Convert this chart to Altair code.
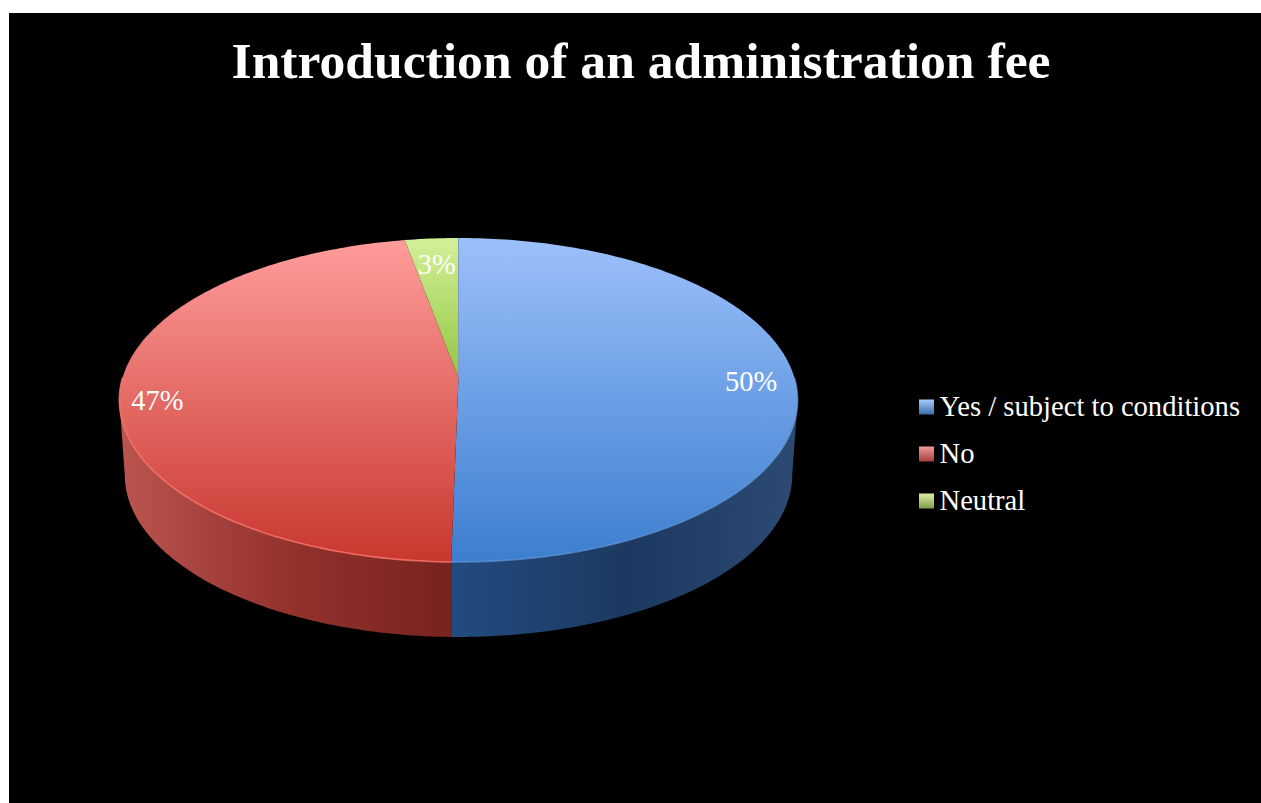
import math
import altair as alt
import pandas as pd

# Survey answers, in the order they run clockwise from twelve o'clock
categories = ["Yes / subject to conditions", "No", "Neutral"]
shares = [50.3, 46.8, 2.9]
chart_title = "Introduction of an administration fee"

# Pie geometry on the canvas: a tilted disc seen in perspective
CX, CY = 458.5, 378.0
RX, RY, TILT = 336.0, 159.0, 0.1358
DEPTH = 75.0
BASE_X_SCALE = 0.984
SERIF = "Liberation Serif"

# Slice colours: face gradient (far edge to near edge), wall gradient (left to right)
face_stops = [("#9cc0fb", "#3c7ecf"), ("#ff9d9b", "#c8372e"), ("#d3f097", "#93c544")]
wall_stops = [("#224b80", "#1c3a60", "#2c4a72"), ("#bb5550", "#94322d", "#77231f")]
swatch_stops = [("#a9cdf6", "#3a6cae"), ("#ee9a9a", "#a83d3b"), ("#dcefa6", "#7f9f45")]

# Where the value labels sit inside their slices: radius fraction and vertical nudge
label_radius = [0.87, 0.89, 0.79]
label_nudge = [3, 11, 0]


def project(theta, radius=1.0, drop=0.0, x_scale=1.0):
    """Map a clockwise disc angle (degrees from the top) to canvas coordinates."""
    t = math.radians(theta)
    u, v = radius * math.sin(t), radius * math.cos(t)
    w = 1 + TILT * v
    return CX + x_scale * RX * u / w, CY - RY * v / w + drop


def arc(start, end, **kwargs):
    steps = max(2, int(abs(end - start)) + 1)
    return [project(start + (end - start) * i / steps, **kwargs) for i in range(steps + 1)]


def frame(points):
    return pd.DataFrame(
        {"x": [p[0] for p in points], "y": [p[1] for p in points], "i": range(len(points))}
    )


X = alt.X("x:Q", scale=alt.Scale(domain=[9, 1261], nice=False, zero=False), axis=None)
Y = alt.Y("y:Q", scale=alt.Scale(domain=[803, 13], nice=False, zero=False), axis=None)


def gradient(stops, horizontal=False):
    last = len(stops) - 1
    return alt.Gradient(
        gradient="linear",
        x1=0, y1=0,
        x2=1 if horizontal else 0,
        y2=0 if horizontal else 1,
        stops=[alt.GradientStop(offset=k / last, color=c) for k, c in enumerate(stops)],
    )


def polygon(points, fill):
    return (
        alt.Chart(frame(points))
        .mark_line(fill=fill, strokeWidth=0, interpolate="linear-closed", clip=True)
        .encode(x=X, y=Y, order="i:Q")
    )


def stroke_path(points, color, width, opacity=1.0):
    return (
        alt.Chart(frame(points))
        .mark_line(color=color, strokeWidth=width, opacity=opacity)
        .encode(x=X, y=Y, order="i:Q")
    )


# Slice boundaries in degrees
edges = [0.0]
for share in shares:
    edges.append(edges[-1] + share * 3.6)

# The silhouette of the disc is widest where cos(theta) equals -TILT
side = math.degrees(math.acos(-TILT))

layers = []

# Side walls: only the slices that reach the near half of the disc show one
wall_spans = [(side, edges[1]), (edges[1], 360 - side)]
for (a, b), stops in zip(wall_spans, wall_stops):
    outline = arc(a, b) + arc(b, a, drop=DEPTH, x_scale=BASE_X_SCALE)
    layers.append(polygon(outline, gradient(stops, horizontal=True)))

# Top faces
for i in range(3):
    outline = [project(0, radius=0)] + arc(edges[i], edges[i + 1])
    layers.append(polygon(outline, gradient(face_stops[i])))

# Bevel highlights along the near rim and the seam next to the first slice
layers.append(stroke_path(arc(edges[1], 360 - side + 8), "#ff7a70", 1.6, 0.8))
layers.append(stroke_path(arc(side - 8, edges[1]), "#6fa3e6", 1.5, 0.6))
layers.append(stroke_path([project(0), project(0, radius=0)], "#7f9cbc", 1.0))

# Value labels at each slice's middle angle
label_rows = []
for i, share in enumerate(shares):
    lx, ly = project((edges[i] + edges[i + 1]) / 2, radius=label_radius[i])
    label_rows.append({"x": lx, "y": ly + label_nudge[i], "share": share / 100})
layers.append(
    alt.Chart(pd.DataFrame(label_rows))
    .mark_text(font=SERIF, fontSize=28.5, color="white", align="center", baseline="middle")
    .encode(x=X, y=Y, text=alt.Text("share:Q", format=".0%"))
)

# Legend: bevel-shaded swatches with their category names
LEGEND_X, LEGEND_Y, LEGEND_STEP = 926.5, 407.0, 47.0
for i, name in enumerate(categories):
    row = pd.DataFrame({"x": [LEGEND_X], "y": [LEGEND_Y + i * LEGEND_STEP], "name": [name]})
    layers.append(
        alt.Chart(row).mark_square(size=225, fill=gradient(swatch_stops[i]), opacity=1).encode(x=X, y=Y)
    )
    layers.append(
        alt.Chart(row)
        .mark_text(font=SERIF, fontSize=28.6, color="white", align="left", baseline="middle", dx=13)
        .encode(x=X, y=Y, text="name:N")
    )

chart = (
    alt.layer(*layers)
    .properties(
        width=1252,
        height=790,
        autosize="none",
        padding={"left": 9, "top": 13, "right": 0, "bottom": 0},
        background="white",
        title=alt.TitleParams(
            chart_title, font=SERIF, fontSize=51.6, fontWeight="bold", color="white",
            anchor="middle", frame="group", baseline="alphabetic", offset=0, dy=117, dx=6,
        ),
    )
    .configure_view(fill="black", stroke=None)
)

chart.save("out.html", embed_options={"renderer": "svg", "actions": False})
